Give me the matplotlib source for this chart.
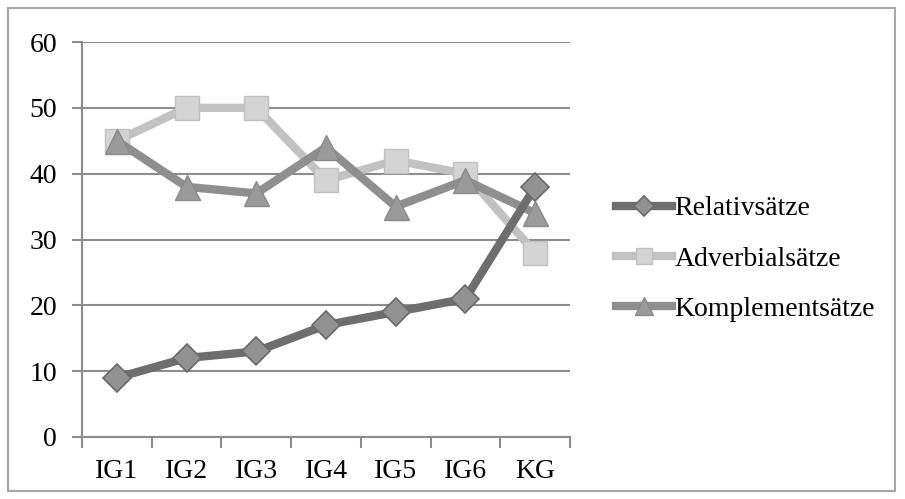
import matplotlib.pyplot as plt
from matplotlib.patches import Rectangle

categories = ['IG1', 'IG2', 'IG3', 'IG4', 'IG5', 'IG6', 'KG']
relativ = [9, 12, 13, 17, 19, 21, 38]
adverbial = [45, 50, 50, 39, 42, 40, 28]
komplement = [45, 38, 37, 44, 35, 39, 34]
yticks = [0, 10, 20, 30, 40, 50, 60]

plt.rcParams['font.family'] = ['Liberation Serif', 'DejaVu Serif']

fig = plt.figure(figsize=(9.05, 4.99), dpi=100)
fig.patches.append(Rectangle((8 / 905, 8 / 499), 887 / 905, 483 / 499,
                             transform=fig.transFigure, fill=False,
                             edgecolor='#a6a6a6', linewidth=1.5))
ax = fig.add_axes([82 / 905, 62 / 499, 488 / 905, 395 / 499])

x = range(len(categories))
ax.plot(x, adverbial, color='#c2c2c2', lw=6, marker='s', ms=17,
        mfc='#d4d4d4', mec='#c0c0c0', mew=1, label='Adverbialsätze', zorder=3)
ax.plot(x, komplement, color='#8f8f8f', lw=6, marker='^', ms=18,
        mfc='#9a9a9a', mec='#8a8a8a', mew=1, label='Komplementsätze', zorder=4)
ax.plot(x, relativ, color='#6e6e6e', lw=6, marker='D', ms=14,
        mfc='#929292', mec='#6a6a6a', mew=1.2, label='Relativsätze', zorder=5)

ax.set_xlim(-0.5, len(categories) - 0.5)
ax.set_ylim(0, 60)
ax.set_yticks(yticks)
ax.set_xticks([i + 0.5 for i in range(-1, len(categories))], minor=False)
ax.set_xticklabels([])
ax.set_xticks(list(x), minor=True)
ax.set_xticklabels(categories, minor=True)
ax.tick_params(axis='x', which='minor', length=0, pad=16, labelsize=20)
ax.tick_params(axis='x', which='major', length=8, width=1.5, color='#8c8c8c',
               direction='out')
ax.tick_params(axis='y', length=7, width=1.5, color='#8c8c8c', pad=11,
               labelsize=20)
ax.yaxis.grid(True, color='#8c8c8c', lw=1.5)
ax.set_axisbelow(True)
for s in ['top', 'right']:
    ax.spines[s].set_visible(False)
for s in ['left', 'bottom']:
    ax.spines[s].set_color('#8c8c8c')
    ax.spines[s].set_linewidth(1.5)

handles, labels = ax.get_legend_handles_labels()
order = [2, 0, 1]
leg = fig.legend([handles[i] for i in order], [labels[i] for i in order],
                 loc='center left', bbox_to_anchor=(616 / 905, 1 - 259 / 499),
                 frameon=False, fontsize=20, handlelength=2.0, handletextpad=0.1,
                 labelspacing=0.9, markerscale=0.7, borderaxespad=0,
                 borderpad=0)

fig.savefig('out.png', dpi=100)
